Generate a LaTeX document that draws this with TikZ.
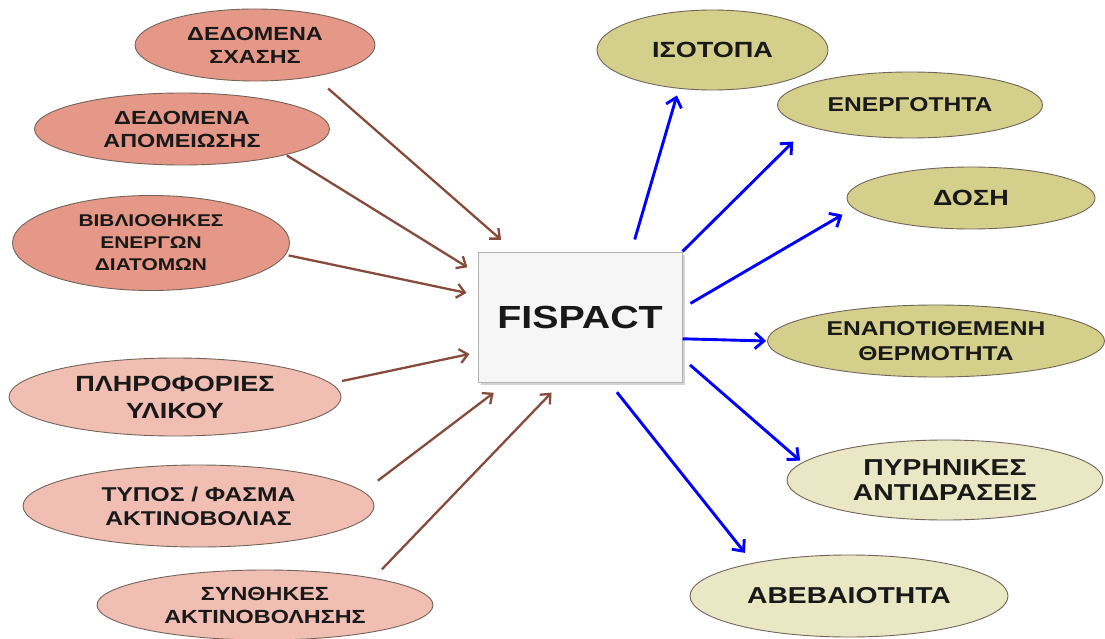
\documentclass[tikz,border=0pt]{standalone}
\usepackage{fontspec}
\newfontfamily\lblfont{Liberation Sans}[FakeStretch=1.23]
\usetikzlibrary{shapes.geometric,arrows.meta,shadows}

\definecolor{salmondark}{RGB}{229,152,135}
\definecolor{salmonlight}{RGB}{240,190,178}
\definecolor{olivedark}{RGB}{212,208,140}
\definecolor{olivelight}{RGB}{234,232,196}
\definecolor{brownline}{RGB}{135,75,60}
\definecolor{ovalline}{RGB}{115,100,90}

\newcommand\sz[2]{\lblfont\bfseries\fontsize{#1}{#2}\selectfont}

\begin{document}
\begin{tikzpicture}[x=1pt,y=-1pt,
    oval/.style={ellipse, draw=ovalline, line width=0.9pt, inner sep=0pt, align=center, text=black!90},
    srcdark/.style={oval, fill=salmondark},
    srclight/.style={oval, fill=salmonlight},
    outdark/.style={oval, fill=olivedark},
    outlight/.style={oval, fill=olivelight},
    inarrow/.style={draw=brownline, line width=2.3pt, -{Straight Barb[length=8pt,width=14pt]}},
    outarrow/.style={draw=blue, line width=2.9pt, -{Straight Barb[length=9pt,width=16pt]}}]

        % Page size
        \useasboundingbox (0,0) rectangle (1105,639);

        % Code box
        \node[draw=gray!60, fill=gray!7, line width=1pt, minimum width=204pt, minimum height=130pt,
              drop shadow={shadow xshift=3pt, shadow yshift=-3pt, opacity=0.35},
              text=black!90, font=\sz{32}{38}] (fispact) at (580,317) {FISPACT};

        % Input data (left)
        \node[srcdark, minimum width=240pt, minimum height=72pt, font=\sz{19}{23}] (sxasi) at (255,45) {ΔΕΔΟΜΕΝΑ\\ΣΧΑΣΗΣ};
        \node[srcdark, minimum width=295pt, minimum height=72pt, font=\sz{19}{23}] (apom) at (182,129) {ΔΕΔΟΜΕΝΑ\\ΑΠΟΜΕΙΩΣΗΣ};
        \node[srcdark, minimum width=277pt, minimum height=95pt, font=\sz{17}{22}] (vivl) at (151,243) {ΒΙΒΛΙΟΘΗΚΕΣ\\ΕΝΕΡΓΩΝ\\ΔΙΑΤΟΜΩΝ};
        \node[srclight, minimum width=332pt, minimum height=78pt, font=\sz{22}{27}] (ylik) at (175,397) {ΠΛΗΡΟΦΟΡΙΕΣ\\ΥΛΙΚΟΥ};
        \node[srclight, minimum width=351pt, minimum height=82pt, font=\sz{20}{24}] (fasma) at (198.5,506) {ΤΥΠΟΣ / ΦΑΣΜΑ\\ΑΚΤΙΝΟΒΟΛΙΑΣ};
        \node[srclight, minimum width=336pt, minimum height=70pt, font=\sz{19}{23}] (synth) at (265,605) {ΣΥΝΘΗΚΕΣ\\ΑΚΤΙΝΟΒΟΛΗΣΗΣ};

        % Results (right)
        \node[outdark, minimum width=231pt, minimum height=80pt, font=\sz{22}{27}] (isot) at (712.5,50) {ΙΣΟΤΟΠΑ};
        \node[outdark, minimum width=265pt, minimum height=66pt, font=\sz{20}{25}] (energ) at (910,105) {ΕΝΕΡΓΟΤΗΤΑ};
        \node[outdark, minimum width=248pt, minimum height=62pt, font=\sz{22}{27}] (dosi) at (971,198) {ΔΟΣΗ};
        \node[outdark, minimum width=337pt, minimum height=72pt, font=\sz{20}{25}] (therm) at (936,341) {ΕΝΑΠΟΤΙΘΕΜΕΝΗ\\ΘΕΡΜΟΤΗΤΑ};
        \node[outlight, minimum width=316pt, minimum height=80pt, font=\sz{23}{25}] (pyrin) at (945,480) {ΠΥΡΗΝΙΚΕΣ\\ΑΝΤΙΔΡΑΣΕΙΣ};
        \node[outlight, minimum width=318pt, minimum height=82pt, font=\sz{23}{27}] (avev) at (849,596) {ΑΒΕΒΑΙΟΤΗΤΑ};

        % Inputs into the code
        \draw[inarrow, shorten <=18pt, shorten >=17.8pt] (sxasi.-28) -- (fispact.135.8);
        \draw[inarrow, shorten <=1pt, shorten >=11.8pt] (apom.-14.2) -- (fispact.157.2);
        \draw[inarrow, shorten <=3pt, shorten >=11.2pt] (vivl.-5) -- (fispact.168);
        \draw[inarrow, shorten <=11pt, shorten >=8.2pt] (ylik.5.2) -- (fispact.199.6);
        \draw[inarrow, shorten <=18pt, shorten >=17pt] (fasma.5.5) -- (fispact.222.8);
        \draw[inarrow, shorten <=12pt, shorten >=14pt] (synth.14.7) -- (fispact.254.4);

        % Outputs of the code
        \draw[outarrow, shorten <=12.5pt, shorten >=7pt] (fispact.52.8) -- (isot.229.7);
        \draw[outarrow, shorten >=21.3pt] (fispact.north east) -- (energ.192.8);
        \draw[outarrow, shorten <=9.2pt, shorten >=12.7pt] (fispact.5.1) -- (dosi.185.2);
        \draw[outarrow, shorten >=1pt] (fispact.348.7) -- (therm.180);
        \draw[outarrow, shorten <=9.9pt, shorten >=2.7pt] (fispact.338) -- (pyrin.173.4);
        \draw[outarrow, shorten <=12.4pt, shorten >=12.8pt] (fispact.294) -- (avev.161.2);
    \end{tikzpicture}
\end{document}
